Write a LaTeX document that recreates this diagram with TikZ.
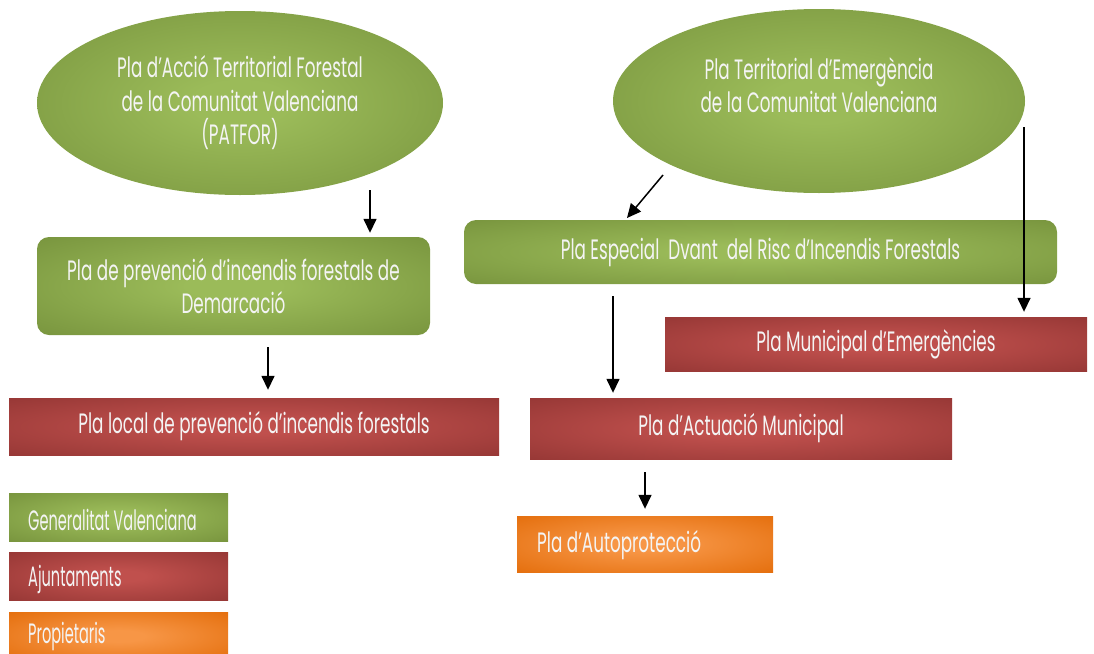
\documentclass[tikz,border=0pt]{standalone}
\usepackage{fontspec}
\setmainfont{Poppins}[FakeStretch=0.6]
\newfontfamily\legfont{Poppins}[FakeStretch=0.52]
\usetikzlibrary{arrows.meta,shapes.geometric}
\definecolor{gIn}{HTML}{9BBB59}
\definecolor{gOut}{HTML}{76923C}
\definecolor{rIn}{HTML}{C0504D}
\definecolor{rOut}{HTML}{943634}
\definecolor{oIn}{HTML}{F79646}
\definecolor{oOut}{HTML}{E36C09}
\definecolor{txtc}{HTML}{F4F4F4}
\pgfdeclareradialshading{gsh}{\pgfpoint{0bp}{0bp}}{color(0bp)=(gIn); color(6bp)=(gIn); color(38bp)=(gOut); color(100bp)=(gOut)}
\pgfdeclareradialshading{rsh}{\pgfpoint{0bp}{0bp}}{color(0bp)=(rIn); color(6bp)=(rIn); color(38bp)=(rOut); color(100bp)=(rOut)}
\pgfdeclareradialshading{osh}{\pgfpoint{0bp}{0bp}}{color(0bp)=(oIn); color(6bp)=(oIn); color(38bp)=(oOut); color(100bp)=(oOut)}
\newcommand\dfs{\fontsize{28}{33.5}\selectfont}
\newcommand\lfs{\legfont\fontsize{28}{32}\selectfont}
\begin{document}
\begin{tikzpicture}[x=1pt,y=-1pt,
  txt/.style={text=txtc,font=\dfs,align=center,inner sep=0},
  ltxt/.style={txt,font=\lfs,anchor=west},
  ell/.style={ellipse,shading=gsh,minimum width=#1,minimum height=184,inner sep=0,txt},
  gbox/.style={rectangle,rounded corners=12,shading=gsh,inner sep=0,txt},
  rbox/.style={rectangle,shading=rsh,inner sep=0,txt},
  obox/.style={rectangle,shading=osh,inner sep=0,txt},
  arr/.style={line width=1.5,-{Triangle[width=13,length=14]}}]
\useasboundingbox (0,0) rectangle (1094,653);
% ellipses
\node[ell=406] (patfor) at (240,103) {Pla d’Acció Territorial Forestal\\de la Comunitat Valenciana\\(PATFOR)};
\node[ell=412] (pte) at (819,101) {};
\node[txt] (ptet) at (819,85) {Pla Territorial d’Emergència\\de la Comunitat Valenciana};
% green boxes
\node[gbox,minimum width=393,minimum height=98] (pd) at (233.5,286) {Pla de prevenció d’incendis forestals de\\Demarcació};
\node[gbox,minimum width=593,minimum height=64] (pe) at (760.5,252) {Pla Especial\ \ Dvant\ \ del Risc d’Incendis Forestals};
% red boxes
\node[rbox,minimum width=490,minimum height=57] (pl) at (254,426.5) {Pla local de prevenció d’incendis forestals};
\node[rbox,minimum width=422,minimum height=54] (pme) at (876,344) {Pla Municipal d’Emergències};
\node[rbox,minimum width=422,minimum height=61] (pam) at (741,428.5) {Pla d’Actuació Municipal};
% orange
\node[obox,minimum width=256,minimum height=56] (pa) at (645,544) {};
\node[txt,anchor=west] (pat) at (537,545) {Pla d’Autoprotecció};
% legend
\node[gbox,rounded corners=0,minimum width=219,minimum height=48] (lg) at (118.5,517) {};
\node[ltxt] (lgt) at (28,520) {Generalitat Valenciana};
\node[rbox,minimum width=219,minimum height=48] (lr) at (118.5,576) {};
\node[ltxt] (lrt) at (28,579) {Ajuntaments};
\node[obox,minimum width=219,minimum height=48] (lo) at (118.5,636) {};
\node[ltxt] (lot) at (28,636) {Propietaris};
% arrows
\coordinate (s1) at (370,190);
\coordinate (s2) at (268,347);
\coordinate (s3) at (663,175);
\coordinate (e3) at (627,218);
\coordinate (s4) at (1024,127);
\coordinate (s5) at (613,296);
\coordinate (s6) at (645,472);
\draw[arr,shorten >=4] (s1) -- (s1 |- pd.north);
\draw[arr,shorten >=8] (s2) -- (s2 |- pl.north);
\draw[arr] (s3) -- (e3);
\draw[arr,shorten >=5] (s4) -- (s4 |- pme.north);
\draw[arr,shorten >=5] (s5) -- (s5 |- pam.north);
\draw[arr,shorten >=7] (s6) -- (s6 |- pa.north);
\end{tikzpicture}
\end{document}
